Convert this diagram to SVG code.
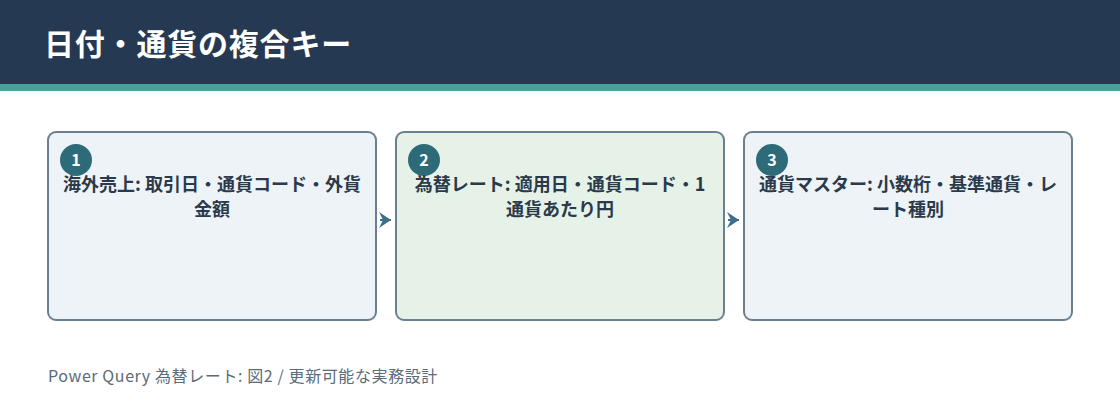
<svg xmlns="http://www.w3.org/2000/svg" width="1120" height="420" viewBox="0 0 1120 420">
<style>
text{font-family:"Noto Sans CJK JP","Noto Sans",sans-serif}
.box{stroke:#6a7f90;stroke-width:2}
.b1{fill:#eef3f8}
.b2{fill:#e6f2e8}
.lbl{font-size:18px;font-weight:700;fill:#2b3a4a;text-anchor:middle}
.badge{fill:#2e6b78}
.num{font-size:16px;font-weight:700;fill:#fff;text-anchor:middle}
.conn{stroke:#3f6f88;stroke-width:2;fill:none}
</style>
<defs>
<marker id="arr" viewBox="0 0 12 16" refX="12" refY="8" markerWidth="12" markerHeight="16" markerUnits="userSpaceOnUse" orient="auto">
<path d="M0,0 L12,8 L0,16 L4,8 Z" fill="#3f6f88"/>
</marker>
</defs>
<rect x="0" y="0" width="1120" height="84" fill="#253a52"/>
<rect x="0" y="84" width="1120" height="7" fill="#47a39a"/>
<text x="44" y="55" font-size="30" font-weight="700" fill="#ffffff" letter-spacing="0.8">日付・通貨の複合キー</text>
<g id="connectors">
<line class="conn" x1="380" y1="220" x2="391" y2="220" marker-end="url(#arr)"/>
<line class="conn" x1="728" y1="220" x2="739" y2="220" marker-end="url(#arr)"/>
</g>
<g id="node1">
<rect class="box b1" x="48" y="132" width="328" height="188" rx="8"/>
<circle class="badge" cx="76" cy="160" r="16"/>
<text class="num" x="76" y="166">1</text>
<text class="lbl" x="212" y="191">海外売上: 取引日・通貨コード・外貨</text>
<text class="lbl" x="212" y="216">金額</text>
</g>
<g id="node2">
<rect class="box b2" x="396" y="132" width="328" height="188" rx="8"/>
<circle class="badge" cx="424" cy="160" r="16"/>
<text class="num" x="424" y="166">2</text>
<text class="lbl" x="560" y="191">為替レート: 適用日・通貨コード・1</text>
<text class="lbl" x="560" y="216">通貨あたり円</text>
</g>
<g id="node3">
<rect class="box b1" x="744" y="132" width="328" height="188" rx="8"/>
<circle class="badge" cx="772" cy="160" r="16"/>
<text class="num" x="772" y="166">3</text>
<text class="lbl" x="908" y="191">通貨マスター: 小数桁・基準通貨・レ</text>
<text class="lbl" x="908" y="216">ート種別</text>
</g>
<text x="48" y="382" font-size="16" fill="#5a6b7a" letter-spacing="0.6">Power Query 為替レート: 図2 / 更新可能な実務設計</text>
</svg>
